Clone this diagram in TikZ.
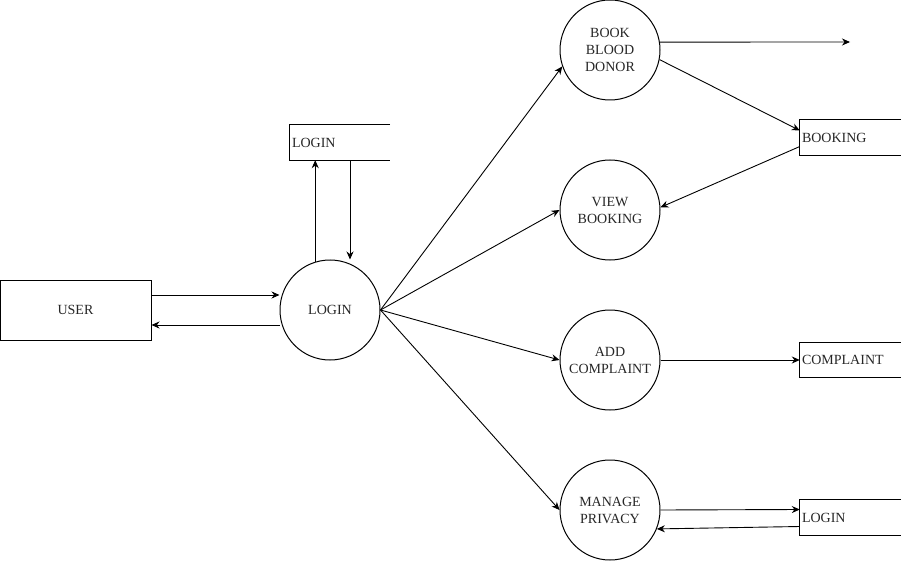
\documentclass[tikz,border=0pt]{standalone}
\usepackage{fontspec}
\setmainfont{Liberation Serif}
\usetikzlibrary{arrows.meta}
\begin{document}
\begin{tikzpicture}[x=1pt,y=-1pt,
  every node/.style={font=\fontsize{14}{17}\selectfont, text=black!85},
  proc/.style={circle, draw, line width=1pt, minimum size=100pt, inner sep=0pt, align=center},
  ent/.style={rectangle, draw, line width=1pt, minimum width=151pt, minimum height=60pt, inner sep=0pt},
  store/.style={rectangle, minimum height=35pt, text width=95pt, inner sep=2pt, align=left},
  flow/.style={-{Stealth[length=8pt,width=7pt]}, line width=0.9pt},
  storeline/.style={line width=1pt}]
\useasboundingbox (0,0) rectangle (901,561);
% nodes
\node[ent] (user) at (75.5,310) {USER};
\node[proc] (login) at (330,310) {LOGIN};
\node[proc] (book) at (610,50) {BOOK\\BLOOD\\DONOR};
\node[proc] (view) at (610,210) {VIEW\\BOOKING};
\node[proc] (add) at (610,360) {ADD\\COMPLAINT};
\node[proc] (manage) at (610,510) {MANAGE\\PRIVACY};
\node[store, minimum width=100pt, text width=96pt] (ls) at (340,142.5) {LOGIN};
\node[store, minimum width=101pt, text width=97pt] (bk) at (850.5,137.5) {BOOKING};
\node[store, minimum width=101pt, text width=97pt] (cp) at (850.5,360) {COMPLAINT};
\node[store, minimum width=101pt, text width=97pt] (l2) at (850.5,517.5) {LOGIN};
\coordinate (free) at (850,42);
% store outlines (open on the right)
\foreach \s in {ls,bk,cp,l2}{
  \draw[storeline] (\s.north east) -- (\s.north west) -- (\s.south west) -- (\s.south east);
}
% connectors
\draw[flow] ([yshift=15pt]user.east) -- ([yshift=15pt]user.east -| login.west);
\draw[flow] ([yshift=-15pt]login.west) -- ([yshift=-15pt]user.east);
\draw[flow] (login.107) -- (login.107 |- ls.south);
\draw[flow] ([xshift=10pt]ls.south) -- ([xshift=10pt]ls.south |- login.north);
\draw[flow] (login.east) -- (book.199);
\draw[flow] (login.east) -- (view.west);
\draw[flow] (login.east) -- (add.west);
\draw[flow] (login.east) -- (manage.west);
\draw[flow] (book.9) -- (free);
\draw[flow] (book.-11) -- ([yshift=7pt]bk.west);
\draw[flow] ([yshift=-9pt]bk.west) -- (view.3);
\draw[flow] (add.east) -- (cp.west);
\draw[flow] (manage.east) -- ([yshift=8pt]l2.west);
\draw[flow] ([yshift=-9pt]l2.west) -- (manage.-22);
\end{tikzpicture}
\end{document}
